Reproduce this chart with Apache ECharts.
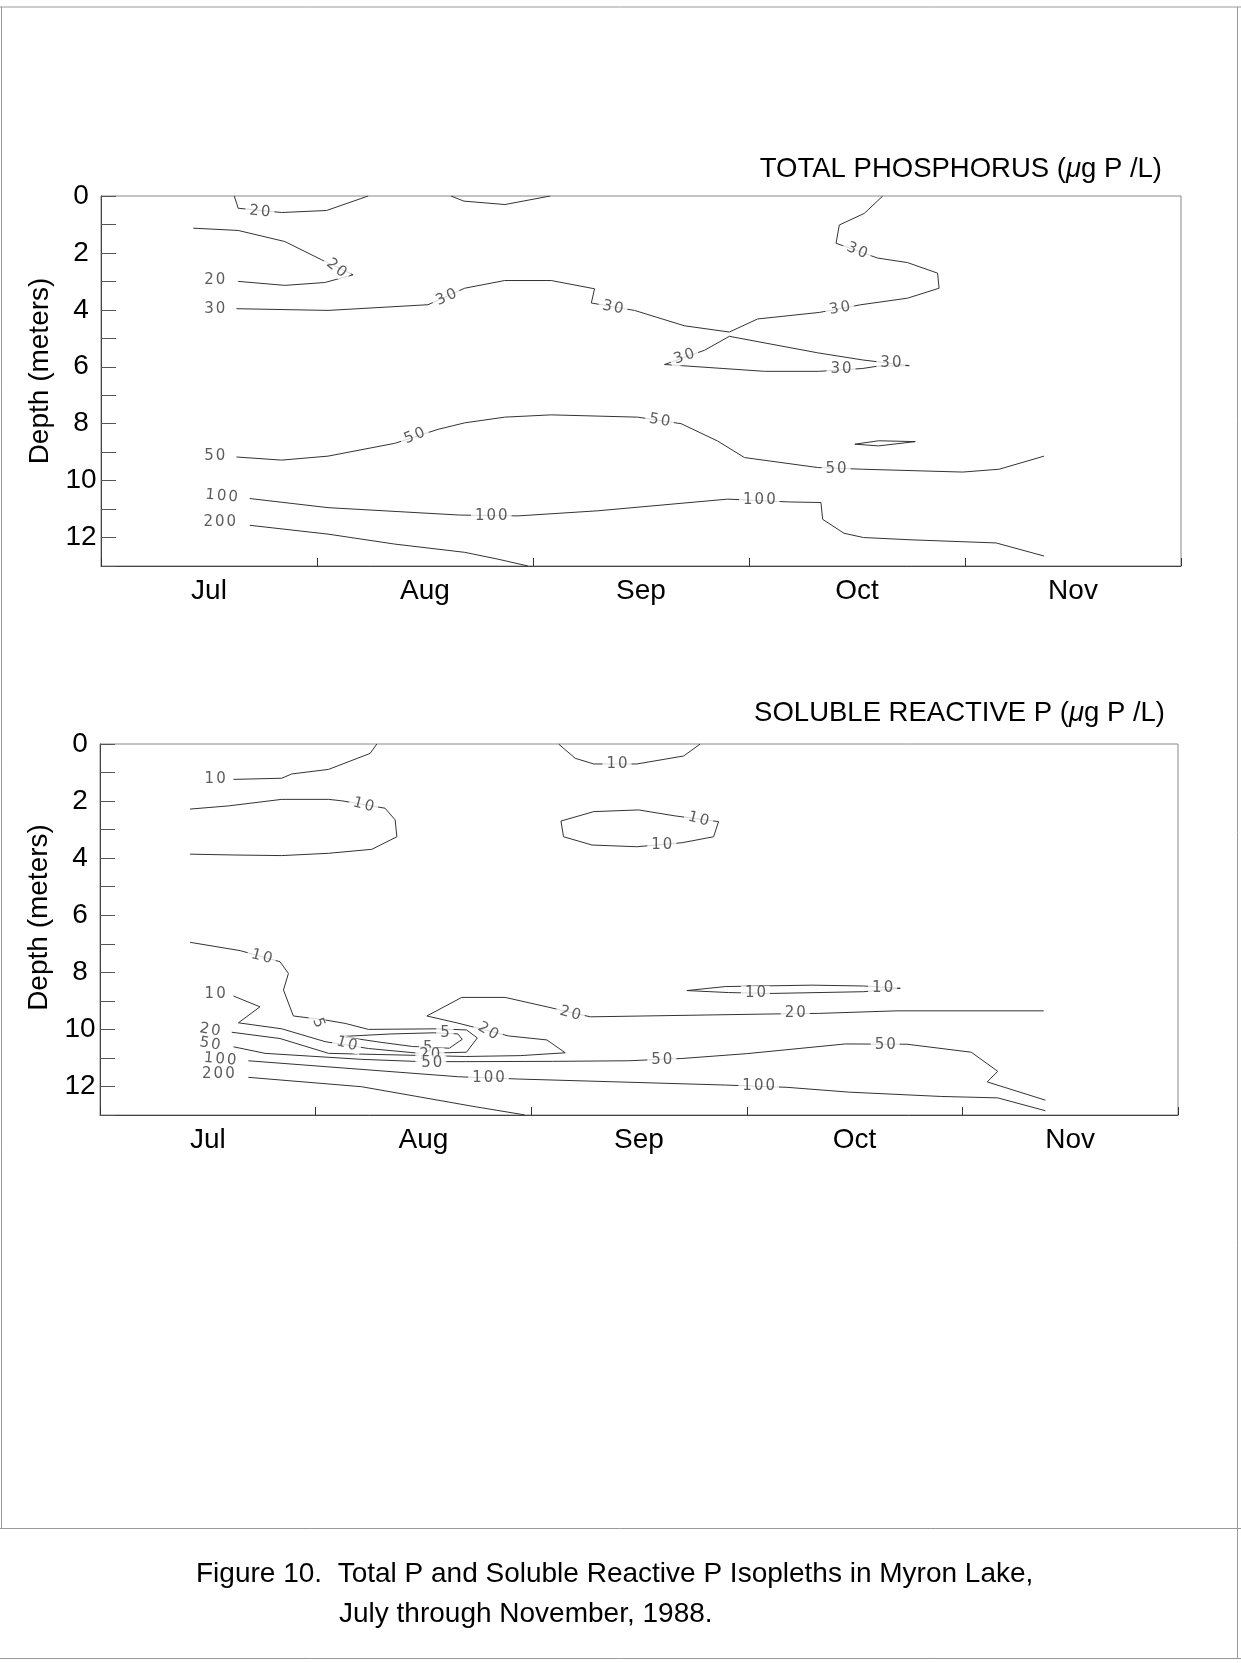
<!DOCTYPE html>
<html lang="en">
<head>
<meta charset="UTF-8">
<title>Total P and Soluble Reactive P Isopleths, Myron Lake 1988</title>
<script src="https://cdn.jsdelivr.net/npm/echarts@6.0.0/dist/echarts.min.js"></script>
<style>
  html, body { margin: 0; padding: 0; background: #fff; }
  #main { width: 1241px; height: 1663px; }
</style>
</head>
<body>
<div id="main"></div>
<script>
// x = months since 1 July 1988 (0 = Jul 1, 5 = Dec 1), y = depth in meters
var months = ['Jul', 'Aug', 'Sep', 'Oct', 'Nov'];

// ---- TOTAL PHOSPHORUS isopleths ----
var tp20a = [[0.617, 0], [0.635, 0.43], [0.836, 0.58], [1.044, 0.51], [1.237, 0]];
var tp20b = [[1.62, 0], [1.68, 0.18], [1.87, 0.3], [2.08, 0]];
var tp20c = [[0.427, 1.13], [0.635, 1.21], [0.851, 1.6], [1.021, 2.24], [1.167, 2.77],
             [1.036, 3.04], [0.851, 3.14], [0.635, 3.0]];
var tp30a = [[0.627, 3.96], [1.051, 4.02], [1.514, 3.82], [1.684, 3.24], [1.869, 2.97],
             [2.084, 2.97], [2.285, 3.26], [2.27, 3.76], [2.47, 4.02], [2.701, 4.56],
             [2.909, 4.78], [3.04, 4.32], [3.326, 4.09], [3.518, 3.82], [3.734, 3.59],
             [3.88, 3.24], [3.873, 2.71], [3.734, 2.34], [3.595, 2.18], [3.403, 1.66],
             [3.418, 1.02], [3.534, 0.61], [3.619, 0]];
var tp30b = [[2.609, 5.92], [2.794, 5.42], [2.909, 4.93], [3.318, 5.51], [3.526, 5.76],
             [3.742, 5.96], [3.595, 5.98], [3.526, 6.06], [3.326, 6.16], [3.071, 6.16],
             [2.609, 5.92]];
var tp50a = [[0.627, 9.17], [0.836, 9.28], [1.051, 9.14], [1.36, 8.69], [1.56, 8.2],
             [1.684, 7.97], [1.869, 7.77], [2.084, 7.69], [2.485, 7.77], [2.686, 8.0],
             [2.855, 8.61], [2.979, 9.19], [3.318, 9.54], [3.526, 9.6], [3.989, 9.7],
             [4.158, 9.6], [4.366, 9.14]];
var tp50b = [[3.49, 8.72], [3.6, 8.6], [3.77, 8.63], [3.6, 8.78], [3.49, 8.72]];
var tp100 = [[0.689, 10.63], [1.051, 10.95], [1.66, 11.21], [1.93, 11.24], [2.3, 11.06],
             [2.902, 10.65], [3.187, 10.75], [3.333, 10.77], [3.341, 11.36], [3.44, 11.85],
             [3.53, 12.0], [3.75, 12.08], [4.144, 12.19], [4.366, 12.65]];
var tp200 = [[0.689, 11.57], [1.051, 11.88], [1.36, 12.23], [1.684, 12.52], [1.838, 12.76],
             [1.977, 13]];
// [x, depth, text, rotation]
var tpLabels = [
  [0.735, 0.55, '20', -5], [1.09, 2.54, '20', -38], [0.527, 2.97, '20', 0],
  [0.527, 3.96, '30', 0], [1.599, 3.56, '30', 24], [2.37, 3.92, '30', -12],
  [3.42, 3.95, '30', 10], [3.5, 1.92, '30', -22], [2.70, 5.64, '30', 19],
  [3.657, 5.86, '30', 0], [3.426, 6.08, '30', 0],
  [0.527, 9.14, '50', 0], [1.452, 8.43, '50', 22], [2.586, 7.89, '50', -10],
  [3.403, 9.58, '50', 0],
  [0.558, 10.54, '100', -5], [1.807, 11.24, '100', 0], [3.048, 10.69, '100', 0],
  [0.55, 11.47, '200', 0]
];

// ---- SOLUBLE REACTIVE P isopleths ----
var srp10a = [[0.619, 1.24], [0.843, 1.2], [0.889, 1.05], [1.06, 0.89], [1.253, 0.33], [1.284, 0]];
var srp10b = [[0.418, 2.28], [0.595, 2.17], [0.843, 1.94], [1.06, 1.94], [1.121, 1.99],
              [1.322, 2.25], [1.369, 2.66], [1.377, 3.25], [1.261, 3.69], [1.06, 3.83],
              [0.843, 3.91], [0.626, 3.89], [0.418, 3.86]];
var srp10c = [[2.127, 0], [2.204, 0.5], [2.29, 0.7], [2.49, 0.7], [2.707, 0.42], [2.784, 0]];
var srp10d = [[2.29, 2.37], [2.498, 2.31], [2.668, 2.52], [2.869, 2.72], [2.846, 3.25],
              [2.699, 3.46], [2.49, 3.6], [2.282, 3.54], [2.15, 3.25], [2.138, 2.7], [2.29, 2.37]];
var srp10e = [[2.722, 8.64], [2.9, 8.5], [3.302, 8.45], [3.542, 8.48], [3.712, 8.56],
              [3.542, 8.68], [3.117, 8.74], [2.916, 8.71], [2.722, 8.64]];
var srp10f = [[0.418, 6.95], [0.65, 7.24], [0.835, 7.63], [0.874, 8.04], [0.851, 8.62],
              [0.897, 9.53], [1.044, 9.67], [1.137, 9.79], [1.245, 10.0], [1.57, 9.98],
              [1.70, 10.02], [1.75, 10.3], [1.70, 10.8], [1.485, 10.84], [1.245, 10.67],
              [1.044, 10.43], [0.843, 9.98], [0.642, 9.77], [0.742, 9.21], [0.619, 8.83]];
var srp5 = [[1.12, 10.25], [1.35, 10.16], [1.55, 10.12], [1.66, 10.16], [1.68, 10.35],
            [1.62, 10.66], [1.45, 10.6], [1.3, 10.45], [1.12, 10.25]];
var srp20 = [[0.611, 10.1], [0.835, 10.32], [1.06, 10.84], [1.694, 10.95], [1.949, 10.92],
             [2.158, 10.82], [2.073, 10.37], [1.895, 10.23], [1.66, 9.78], [1.516, 9.53],
             [1.678, 8.88], [1.879, 8.88], [2.073, 9.21], [2.274, 9.56], [3.117, 9.46],
             [3.333, 9.44], [3.697, 9.35], [4.377, 9.35]];
var srp50 = [[0.619, 10.61], [0.766, 10.84], [1.214, 11.05], [1.493, 11.13], [1.694, 11.13],
             [2.1, 11.12], [2.45, 11.1], [2.699, 11.02], [3.0, 10.85], [3.457, 10.51],
             [3.743, 10.52], [4.041, 10.8], [4.164, 11.47], [4.115, 11.84], [4.385, 12.48]];
var srp100 = [[0.688, 11.1], [1.663, 11.66], [1.941, 11.74], [2.9, 11.95], [3.186, 12.03],
              [3.476, 12.2], [3.9, 12.35], [4.164, 12.4], [4.385, 12.85]];
var srp200 = [[0.688, 11.68], [1.214, 12.01], [1.74, 12.71], [1.949, 12.97], [1.97, 13]];
var srpLabels = [
  [0.534, 1.24, '10', 0], [1.222, 2.14, '10', -15], [2.398, 0.7, '10', 0],
  [2.776, 2.64, '10', -15], [2.606, 3.54, '10', 0], [3.04, 8.74, '10', 0],
  [3.63, 8.56, '10', 0], [0.75, 7.45, '10', -15], [1.145, 10.51, '10', -15],
  [0.534, 8.76, '10', 0],
  [1.60, 10.14, '5', 0], [1.52, 10.64, '5', 0], [1.013, 9.77, '5', -70],
  [0.51, 10.02, '20', -10], [1.53, 10.9, '20', 0], [1.80, 10.06, '20', -30],
  [2.181, 9.44, '20', -15], [3.225, 9.44, '20', 0],
  [0.51, 10.51, '50', -10], [1.539, 11.17, '50', 0], [2.606, 11.07, '50', 0],
  [3.642, 10.55, '50', 0],
  [0.557, 11.05, '100', -5], [1.802, 11.72, '100', 0], [3.055, 12.0, '100', 0],
  [0.549, 11.58, '200', 0]
];

var tpLines = [tp20a, tp20b, tp20c, tp30a, tp30b, tp50a, tp50b, tp100, tp200];
var srpLines = [srp10a, srp10b, srp10c, srp10d, srp10e, srp10f, srp5, srp20, srp50, srp100, srp200];

var axisFont = 'Liberation Sans, Arial, sans-serif';

function lineSeries(lines, xi, yi) {
    return lines.map(function (pts) {
        return {
            type: 'line',
            xAxisIndex: xi,
            yAxisIndex: yi,
            data: pts,
            symbol: 'none',
            smooth: false,
            silent: true,
            lineStyle: { color: '#333', width: 1 },
            z: 2
        };
    });
}

function labelSeries(labels, xi, yi) {
    return {
        type: 'scatter',
        xAxisIndex: xi,
        yAxisIndex: yi,
        symbolSize: 1,
        itemStyle: { color: 'rgba(0,0,0,0)' },
        silent: true,
        z: 5,
        data: labels.map(function (l) {
            return { value: [l[0], l[1]], name: l[2], label: { rotate: l[3] } };
        }),
        label: {
            show: true,
            position: 'inside',
            formatter: function (p) {
                return p.name.split('').map(function (c) { return '{d|' + c + '}'; }).join('');
            },
            backgroundColor: '#fff',
            padding: [0, 3],
            rich: {
                d: { fontFamily: 'DejaVu Sans', fontSize: 15, color: '#333', padding: [0, 1] }
            }
        }
    };
}

function monthAxis(gi) {
    return {
        gridIndex: gi,
        type: 'category',
        position: 'bottom',
        data: months,
        boundaryGap: true,
        axisLine: { onZero: false, lineStyle: { color: '#444', width: 1 } },
        axisTick: { show: true, inside: true, length: 8, alignWithLabel: false, lineStyle: { color: '#333' } },
        axisLabel: { fontFamily: axisFont, fontSize: 28, color: '#000', margin: 11 },
        splitLine: { show: false }
    };
}

function valueXAxis(gi) {
    return { gridIndex: gi, type: 'value', min: 0, max: 5, show: false, axisLine: { onZero: false } };
}

function depthAxis(gi, shift) {
    return {
        gridIndex: gi,
        type: 'value',
        position: 'left',
        inverse: true,
        min: 0,
        max: 13,
        interval: 1,
        name: 'Depth (meters)',
        nameLocation: 'middle',
        nameGap: 45,
        nameRotate: 90,
        nameTextStyle: { fontFamily: axisFont, fontSize: 28, color: '#000', padding: [0, 0, 0, shift] },
        axisLine: { show: true, onZero: false, lineStyle: { color: '#444', width: 1 } },
        axisTick: { show: true, inside: true, length: 15, lineStyle: { color: '#555' } },
        axisLabel: {
            fontFamily: axisFont, fontSize: 28, color: '#000', align: 'center', margin: 20,
            formatter: function (v) { return (v % 2 === 0 && v <= 12) ? String(v) : ''; }
        },
        splitLine: { show: false }
    };
}

var chart = echarts.init(document.getElementById('main'));

var titleStyle = {
    fontFamily: axisFont, fontSize: 27.5, fontWeight: 'normal', color: '#000',
    rich: { it: { fontFamily: axisFont, fontSize: 27.5, fontStyle: 'italic', color: '#000' } }
};

var option = {
    animation: false,
    backgroundColor: '#fff',
    title: [
        { text: 'TOTAL PHOSPHORUS ({it|μ}g P /L)', right: 79, top: 155, padding: 0, textStyle: titleStyle },
        { text: 'SOLUBLE REACTIVE P ({it|μ}g P /L)', right: 76, top: 699, padding: 0, textStyle: titleStyle },
        {
            text: 'Figure 10.  Total P and Soluble Reactive P Isopleths in Myron Lake,',
            left: 196, top: 1560, padding: 0,
            textStyle: { fontFamily: axisFont, fontSize: 28, fontWeight: 'normal', color: '#000' }
        },
        {
            text: 'July through November, 1988.',
            left: 339, top: 1600, padding: 0,
            textStyle: { fontFamily: axisFont, fontSize: 28, fontWeight: 'normal', color: '#000' }
        }
    ],
    graphic: [
        { type: 'line', shape: { x1: 0, y1: 7, x2: 1241, y2: 7 }, style: { stroke: '#999', lineWidth: 1 } },
        { type: 'line', shape: { x1: 1.5, y1: 7, x2: 1.5, y2: 1528 }, style: { stroke: '#999', lineWidth: 1 } },
        { type: 'line', shape: { x1: 1237.5, y1: 7, x2: 1237.5, y2: 1658 }, style: { stroke: '#999', lineWidth: 1 } },
        { type: 'line', shape: { x1: 0, y1: 1528.5, x2: 1241, y2: 1528.5 }, style: { stroke: '#999', lineWidth: 1 } },
        { type: 'line', shape: { x1: 0, y1: 1658.5, x2: 1241, y2: 1658.5 }, style: { stroke: '#999', lineWidth: 1 } }
    ],
    grid: [
        { left: 101, top: 196, width: 1080, height: 370, show: true, borderColor: '#888', borderWidth: 1 },
        { left: 100, top: 744, width: 1078, height: 371, show: true, borderColor: '#888', borderWidth: 1 }
    ],
    xAxis: [monthAxis(0), valueXAxis(0), monthAxis(1), valueXAxis(1)],
    yAxis: [depthAxis(0, 20), depthAxis(1, 24)],
    series: []
        .concat(lineSeries(tpLines, 1, 0))
        .concat([labelSeries(tpLabels, 1, 0)])
        .concat(lineSeries(srpLines, 3, 1))
        .concat([labelSeries(srpLabels, 3, 1)])
};

chart.setOption(option);
</script>
</body>
</html>
